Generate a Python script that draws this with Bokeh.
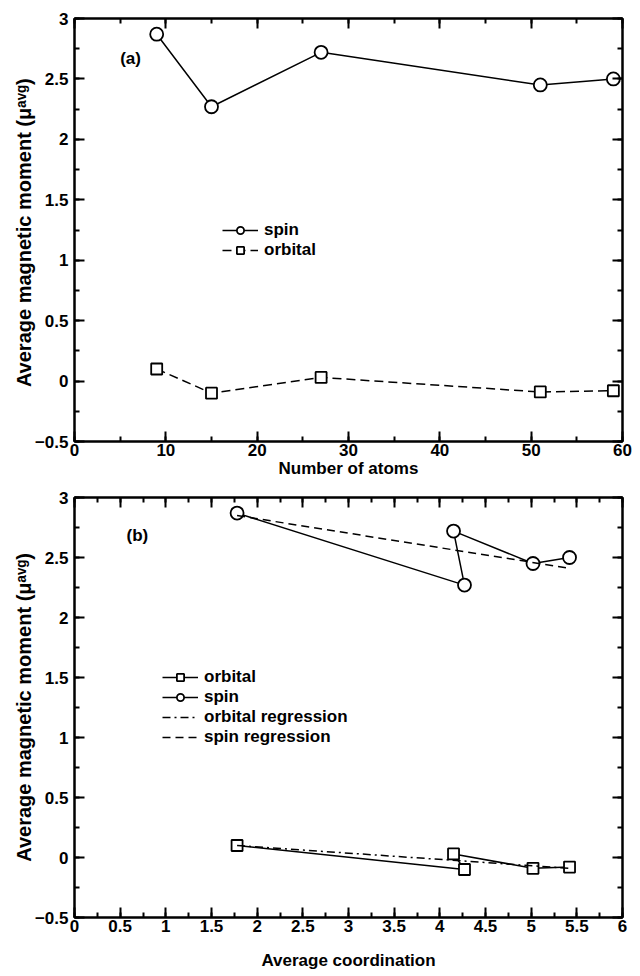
from bokeh.plotting import figure
from bokeh.layouts import column
from bokeh.models import (LinearAxis, Legend, LegendItem, Label, Range1d,
                          SingleIntervalTicker, CustomJSTickFormatter)
from bokeh.embed import file_html
from bokeh.resources import INLINE

# ---- data ----
atoms = [9, 15, 27, 51, 59]
coordination = [1.78, 4.27, 4.15, 5.02, 5.42]
spin = [2.87, 2.27, 2.72, 2.45, 2.50]
orbital = [0.10, -0.10, 0.03, -0.09, -0.08]
spin_reg_x = [1.78, 5.42]
spin_reg_y = [2.85, 2.41]
orb_reg_x = [1.78, 5.42]
orb_reg_y = [0.10, -0.09]

FONT = "Liberation Sans"
FS = "17px"
YLABEL_TOP = "Average magnetic moment  (\u03bc\u1d43\u1d5b\u1d4d)"
YLABEL_BOT = "Average magnetic moment (\u03bc\u1d43\u1d5b\u1d4d)"


def style_axis(ax, major, minor, labels=True):
    ax.ticker = SingleIntervalTicker(interval=major, num_minor_ticks=int(round(major / minor)))
    ax.axis_line_width = 2
    ax.axis_line_color = "black"
    ax.major_tick_in = 10
    ax.major_tick_out = 0
    ax.minor_tick_in = 5
    ax.minor_tick_out = 0
    ax.major_tick_line_width = 2
    ax.minor_tick_line_width = 2
    ax.major_tick_line_color = "black"
    ax.minor_tick_line_color = "black"
    ax.major_label_text_font = FONT
    ax.major_label_text_font_style = "bold"
    ax.major_label_text_font_size = FS
    ax.major_label_text_color = "black"
    ax.axis_label_text_font = FONT
    ax.axis_label_text_font_style = "bold"
    ax.axis_label_text_font_size = FS
    ax.axis_label_text_color = "black"
    if not labels:
        ax.formatter = CustomJSTickFormatter(code="return ''")
        ax.major_label_standoff = 0


def make_fig(xr, xmajor, xminor, frame_h, border_top, border_bottom, xlabel,
             xlabel_standoff, ylabel):
    p = figure(frame_width=548, frame_height=frame_h,
               x_range=Range1d(*xr), y_range=Range1d(-0.5, 3.0),
               output_backend="svg", toolbar_location=None,
               min_border_left=74, min_border_right=18,
               min_border_top=border_top, min_border_bottom=border_bottom,
               x_axis_location=None, y_axis_location=None)
    p.grid.visible = False
    p.outline_line_color = "black"
    p.outline_line_width = 2
    p.background_fill_color = "white"
    p.border_fill_color = "white"

    xb = LinearAxis(axis_label=xlabel, axis_label_standoff=xlabel_standoff)
    style_axis(xb, xmajor, xminor)
    xb.major_label_standoff = 2
    p.add_layout(xb, "below")
    yl = LinearAxis(axis_label=ylabel, axis_label_standoff=-3)
    style_axis(yl, 0.5, 0.25)
    yl.major_label_standoff = 6
    yl.axis_label_text_font_size = "20px"
    p.add_layout(yl, "left")
    xt = LinearAxis()
    style_axis(xt, xmajor, xminor, labels=False)
    p.add_layout(xt, "above")
    yr = LinearAxis()
    style_axis(yr, 0.5, 0.25, labels=False)
    p.add_layout(yr, "right")
    return p


def make_legend(items, loc):
    return Legend(items=items, location=loc, padding=0, spacing=0, margin=0,
                  glyph_width=36, glyph_height=18, label_height=18, label_standoff=6,
                  border_line_color=None, background_fill_alpha=0,
                  label_text_font=FONT, label_text_font_style="bold",
                  label_text_font_size=FS, label_text_color="black")


# ---- top panel ----
p1 = make_fig((0, 60), 10, 5, 423, 18, 48, "Number of atoms", 0, YLABEL_TOP)
l_spin = p1.line(atoms, spin, line_color="black", line_width=1.5)
s_spin = p1.scatter(atoms, spin, marker="circle", size=13, fill_color="white",
                    line_color="black", line_width=1.8)
l_orb = p1.line(atoms, orbital, line_color="black", line_width=1.5, line_dash="9 5")
s_orb = p1.scatter(atoms, orbital, marker="square", size=11, fill_color="white",
                   line_color="black", line_width=1.8)
p1.add_layout(Label(x=5.0, y=2.67, text="(a)", text_font=FONT, text_font_style="bold",
                    text_font_size=FS, text_baseline="middle", text_color="black"))
p1.add_layout(make_legend([LegendItem(label="spin", renderers=[l_spin, s_spin]),
                           LegendItem(label="orbital", renderers=[l_orb, s_orb])],
                          (148, 181)))

# ---- bottom panel ----
p2 = make_fig((0, 6), 0.5, 0.25, 420, 8, 59, "Average coordination", 16, YLABEL_BOT)
l2_spin = p2.line(coordination, spin, line_color="black", line_width=1.5)
s2_spin = p2.scatter(coordination, spin, marker="circle", size=13, fill_color="white",
                     line_color="black", line_width=1.8)
l2_orb = p2.line(coordination, orbital, line_color="black", line_width=1.5)
s2_orb = p2.scatter(coordination, orbital, marker="square", size=11, fill_color="white",
                    line_color="black", line_width=1.8)
l2_sreg = p2.line(spin_reg_x, spin_reg_y, line_color="black", line_width=1.5,
                  line_dash="8 5")
l2_oreg = p2.line(orb_reg_x, orb_reg_y, line_color="black", line_width=1.5,
                  line_dash="8 4 2 4")
p2.add_layout(Label(x=0.57, y=2.68, text="(b)", text_font=FONT, text_font_style="bold",
                    text_font_size=FS, text_baseline="middle", text_color="black"))
p2.add_layout(make_legend([LegendItem(label="orbital", renderers=[l2_orb, s2_orb]),
                           LegendItem(label="spin", renderers=[l2_spin, s2_spin]),
                           LegendItem(label="orbital regression", renderers=[l2_oreg]),
                           LegendItem(label="spin regression", renderers=[l2_sreg])],
                          (88, 170)))

layout = column(p1, p2, spacing=0)
open("out.html", "w").write(file_html(layout, INLINE))
